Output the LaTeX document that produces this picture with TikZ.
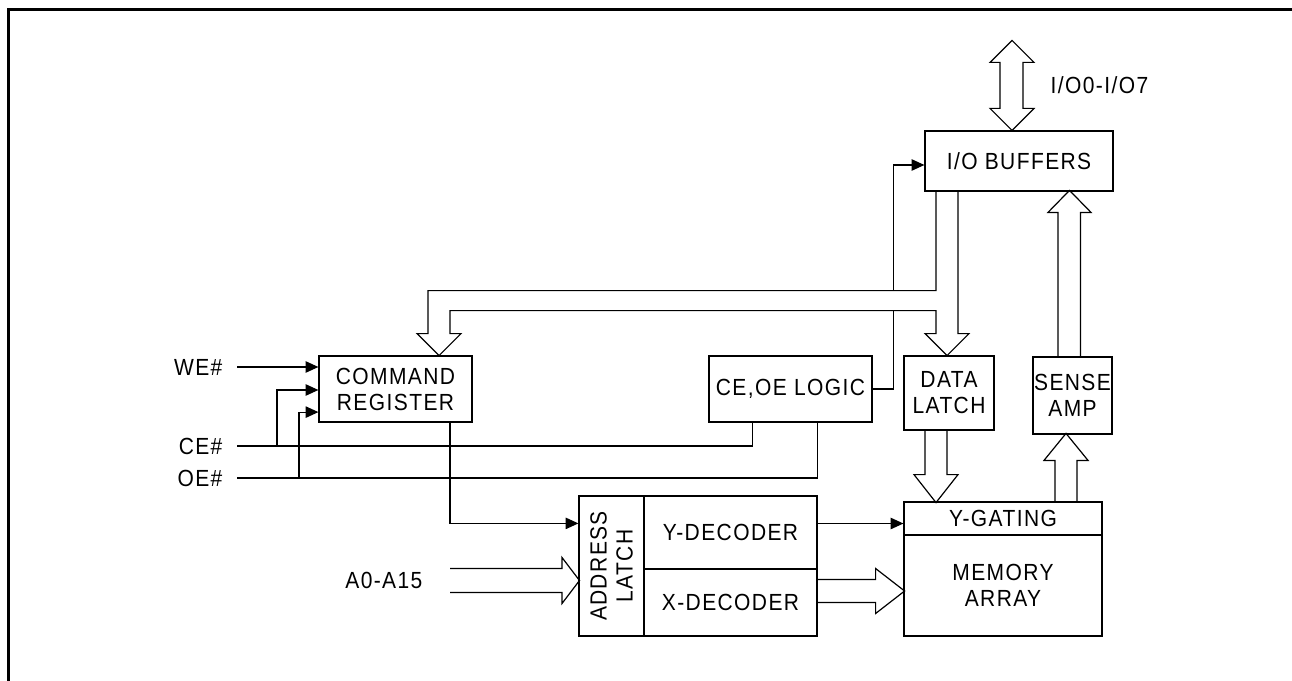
\documentclass[tikz,border=0pt]{standalone}
\usepackage{fontspec}
\setmainfont{Liberation Sans}[LetterSpace=6,FakeStretch=0.9]
\usetikzlibrary{arrows.meta,calc}

\tikzset{every picture/.style={line width=0.9pt}}
\tikzset{
  blk/.style={draw, inner sep=0pt, align=center},
  lbl/.style={inner sep=0pt},
  sig/.style={-{Triangle[length=9.5pt,width=8.5pt]}},
  bus/.style={line join=miter}
}

\begin{document}
\begin{tikzpicture}[x=0.75pt,y=0.75pt,yscale=-1,xscale=1,font=\fontsize{17.5}{19.5}\selectfont]
  \useasboundingbox (0,0) rectangle (1292,681);

  % Frame
  \draw[line width=2.25pt] (8.5,681) -- (8.5,9.5) -- (1292,9.5);

  % Blocks
  \node[blk, minimum width=141pt, minimum height=45pt] (iobuf) at (1019,161) {I/O BUFFERS};
  \node[blk, minimum width=114.75pt, minimum height=49.5pt] (cmd) at (395.5,389) {COMMAND\\REGISTER};
  \node[blk, minimum width=122.25pt, minimum height=49.5pt] (ceoe) at (790.5,389) {CE,OE LOGIC};
  \node[blk, minimum width=67.5pt, minimum height=55.5pt] (dlatch) at (949,393) {DATA\\LATCH};
  \node[blk, minimum width=59.25pt, minimum height=57.75pt] (sense) at (1072.5,395.5) {SENSE\\AMP};
  \node[blk, minimum width=48.75pt, minimum height=105pt] (alatch) at (611.5,566) {};
  \node[lbl, rotate=90, align=center] (alatchtxt) at (alatch) {ADDRESS\\LATCH};
  \node[blk, minimum width=129.75pt, minimum height=54.75pt] (ydec) at (730.5,532.5) {Y-DECODER};
  \node[blk, minimum width=129.75pt, minimum height=50.25pt] (xdec) at (730.5,602.5) {X-DECODER};
  \node[blk, minimum width=148.5pt, minimum height=24.75pt] (ygate) at (1003,518.5) {Y-GATING};
  \node[blk, minimum width=148.5pt, minimum height=75.75pt] (mem) at (1003,585.5) {MEMORY\\ARRAY};

  % Pin labels
  \node[lbl, anchor=east] (we) at (223,367) {WE\#};
  \node[lbl, anchor=east] (ce) at (223,446) {CE\#};
  \node[lbl, anchor=east] (oe) at (223,478) {OE\#};
  \node[lbl, anchor=east] (addr) at (423,580) {A0-A15};
  \node[lbl, anchor=west] (iolbl) at (1050,85) {I/O0-I/O7};

  % Control lines
  \draw[sig] ($(we.east)+(14,0)$) -- (we.east -| cmd.west);
  \draw ($(ce.east)+(14,0)$) -| ($(ceoe.south)+(-38,0)$);
  \draw[sig] ($(ce.east)+(54,0)$) |- ($(cmd.west)+(0,1)$);
  \draw ($(oe.east)+(14,0)$) -| ($(ceoe.south)+(27,0)$);
  \draw[sig] ($(oe.east)+(76,0)$) |- ($(cmd.south west)+(0,-10.5)$);
  \draw[sig] ($(cmd.south)+(54.5,0)$) |- ($(alatch.north west)+(0,28)$);
  \draw[sig] ($(ydec.east)+(0,-9)$) -- ($(ygate.west)+(0,5)$);
  \draw (ceoe.east) -| ($(ceoe.east)+(21,-79)$);
  \draw[sig] ($(ceoe.east)+(21,-99)$) |- ($(iobuf.west)+(0,4)$);

  % Data bus
  \draw[bus] ($(iobuf.south)+(-61,0)$) -- ++(0,142) -- ++(11,0) -- ++(-22,22) -- ++(-22,-22) -- ++(11,0)
    -- ++(0,-23) -- ++(-486,0) -- ++(0,23) -- ++(11,0) -- ++(-22,22) -- ++(-22,-22) -- ++(11,0)
    -- ++(0,-43) -- ++(508,0) -- ++(0,-99);
  % I/O pins
  \draw[bus] ($(iobuf.north)+(-7,0)$) -- ++(-22,-22) -- ++(10,0) -- ++(0,-46) -- ++(-10,0) -- ++(22,-22)
    -- ++(22,22) -- ++(-11,0) -- ++(0,46) -- ++(11,0) -- cycle;
  % Sense amp to I/O buffers
  \draw[bus] ($(sense.north)+(-14.5,0)$) -- ++(0,-144) -- ++(-10,0) -- ++(21.5,-22) -- ++(21.5,22)
    -- ++(-10.5,0) -- ++(0,144);
  % Y-gating to sense amp
  \draw[bus] ($(ygate.north)+(52,0)$) -- ++(0,-41) -- ++(-11,0) -- ++(22,-27) -- ++(22,27) -- ++(-11,0) -- ++(0,41);
  % Data latch to memory
  \draw[bus] ($(dlatch.south)+(-24,0)$) -- ++(0,44) -- ++(-11,0) -- ++(22,28) -- ++(22,-28) -- ++(-11,0) -- ++(0,-44);
  % Address inputs
  \draw[bus] ($(addr.east)+(27,-11.5)$) -- ++(112,0) -- ++(0,-11) -- ++(17.5,23) -- ++(-17.5,23) -- ++(0,-11) -- ++(-112,0);
  % X-decoder to memory
  \draw[bus] ($(xdec.east)+(0,-23)$) -- ++(58,0) -- ++(0,-11) -- ++(29,22.5) -- ++(-29,22.5) -- ++(0,-11) -- ++(-58,0);

\end{tikzpicture}
\end{document}
